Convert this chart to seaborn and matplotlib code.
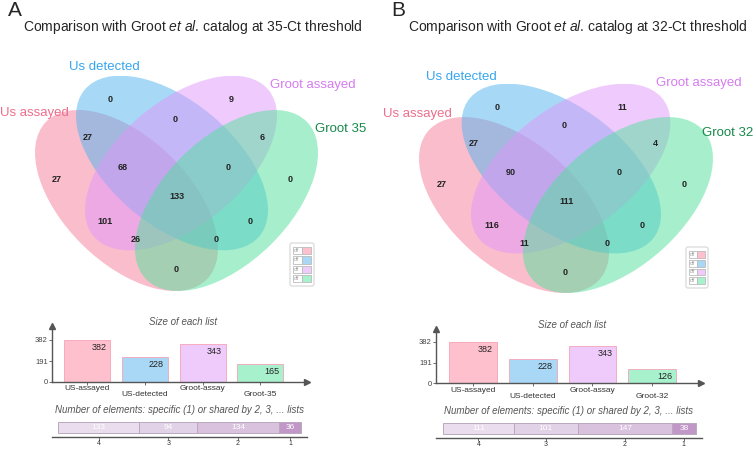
import numpy as np
import pandas as pd
import matplotlib
matplotlib.use("Agg")
import matplotlib.pyplot as plt
from matplotlib.patches import Ellipse, FancyBboxPatch, Rectangle
import seaborn as sns

sns.set_style("white")
plt.rcParams['font.family'] = ['Liberation Sans', 'DejaVu Sans']
plt.rcParams['mathtext.fontset'] = 'custom'
plt.rcParams['mathtext.rm'] = 'Liberation Sans'
plt.rcParams['mathtext.it'] = 'Liberation Sans:italic'

# ---- data ----
set_names_a = ["Us assayed", "Us detected", "Groot assayed", "Groot 35"]
set_names_b = ["Us assayed", "Us detected", "Groot assayed", "Groot 32"]
bar_labels_a = ["US-assayed", "US-detected", "Groot-assay", "Groot-35"]
bar_labels_b = ["US-assayed", "US-detected", "Groot-assay", "Groot-32"]

# regions: A, B, C, D, AB, BC, CD, ABC, BCD, ABCD, AC, BD, ACD, ABD, AD
regions = ["A", "B", "C", "D", "AB", "BC", "CD", "ABC", "BCD", "ABCD",
           "AC", "BD", "ACD", "ABD", "AD"]
counts_a = [27, 0, 9, 0, 27, 0, 6, 68, 0, 133, 101, 0, 26, 0, 0]
counts_b = [27, 0, 11, 0, 27, 0, 4, 90, 0, 111, 116, 0, 11, 0, 0]

sizes_a = [382, 228, 343, 165]
sizes_b = [382, 228, 343, 126]
size_ticks = [0, 191, 382]

shared_labels = ["4", "3", "2", "1"]
shared_a = [133, 94, 134, 36]
shared_b = [111, 101, 147, 38]

# ---- layout / style ----
W, H = 753, 449
fill_colors = ["#F57D9B", "#50B4F0", "#E196FA", "#50E19B"]
bar_colors = ["#FFC0CE", "#A8D8F6", "#EFCBFC", "#A8F1CD"]
bar_edges = ["#F5A3B6", "#8CC8EE", "#E0B0F2", "#8CE3B8"]
name_colors = ["#EE6E8C", "#36A6EE", "#D57CEF", "#17884A"]
shared_colors = ["#EADDEE", "#E2D2E7", "#D8C2DE", "#C197C8"]

# ellipses in the panel-A pixel frame: centre, width, height, angle
ellipses = [((126.5, 200.5), 225, 125, 44.4),
            ((172.0, 163.0), 228, 124, 40.0),
            ((181.0, 163.0), 228, 124, -40.0),
            ((226.5, 200.5), 225, 125, -44.4)]
region_xy = [(57, 179), (110, 100), (231, 100), (290, 179), (88, 137),
             (175, 119), (262, 137), (123, 167), (228, 167), (177, 197),
             (105, 222), (250, 222), (136, 240), (216, 240), (176, 270)]

fig = plt.figure(figsize=(W / 100, H / 100), dpi=100)


def px_axes(x0, y0, x1, y1):
    return fig.add_axes([x0 / W, 1 - y1 / H, (x1 - x0) / W, (y1 - y0) / H])


def draw_venn(box, counts, names, name_pos):
    ax = px_axes(*box)
    ax.set_xlim(35, 318)
    ax.set_ylim(291, 76)
    ax.axis("off")
    for (c, w, h, ang), col in zip(ellipses, fill_colors):
        ax.add_patch(Ellipse(c, w, h, angle=ang, facecolor=col, alpha=0.5,
                             edgecolor="none"))
    for (x, y), v in zip(region_xy, counts):
        ax.text(x, y, str(v), ha="center", va="center", fontsize=6.5,
                fontweight="bold", color="#222222")
    for name, (x, y), col in zip(names, name_pos, name_colors):
        fig.text(x / W, 1 - y / H, name, ha="left", va="center",
                 fontsize=9.5, color=col)


def draw_switches(x0, y0, x1, y1):
    ax = px_axes(0, 0, W, H)
    ax.set_xlim(0, W)
    ax.set_ylim(H, 0)
    ax.axis("off")
    ax.add_patch(FancyBboxPatch((x0, y0), x1 - x0, y1 - y0,
                                boxstyle="round,pad=0,rounding_size=2",
                                facecolor="white", edgecolor="#DDDDDD", lw=1))
    rh = (y1 - y0 - 6) / 4
    for i, col in enumerate(bar_colors):
        yy = y0 + 3 + i * rh + 1
        ax.add_patch(Rectangle((x0 + 3, yy), (x1 - x0 - 6) / 2, rh - 2,
                               facecolor="white", edgecolor="#BBBBBB", lw=0.6))
        ax.add_patch(Rectangle((x0 + 3 + (x1 - x0 - 6) / 2, yy),
                               (x1 - x0 - 6) / 2, rh - 2,
                               facecolor=col, edgecolor="#BBBBBB", lw=0.6))
        ax.text(x0 + 4, yy + (rh - 2) / 2, "off", fontsize=3.5,
                color="#999999", va="center", ha="left")


def draw_sizes(box, sizes, labels, ytop):
    ax = px_axes(*box)
    df = pd.DataFrame({"list": labels, "size": sizes})
    sns.barplot(data=df, x="list", y="size", hue="list", palette=bar_colors,
                legend=False, ax=ax, width=0.8, saturation=1,
                edgecolor=bar_edges, linewidth=0.6)
    ax.set_xlim(-0.61, 3.81)
    ax.set_ylim(0, ytop)
    ax.set_xlabel("")
    ax.set_ylabel("")
    for s in ["top", "right"]:
        ax.spines[s].set_visible(False)
    for s in ["left", "bottom"]:
        ax.spines[s].set_color("#555555")
        ax.spines[s].set_linewidth(1)
    ax.plot(1, 0, ">", color="#555555", ms=4, transform=ax.transAxes,
            clip_on=False)
    ax.plot(0, 1, "^", color="#555555", ms=4, transform=ax.transAxes,
            clip_on=False)
    ax.set_yticks(size_ticks)
    ax.set_yticklabels([str(t) for t in size_ticks], fontsize=5.5,
                       color="#444444")
    ax.tick_params(axis="y", length=2, width=0.6, pad=1, left=True,
                   color="#555555")
    ax.set_xticks(range(len(labels)))
    ax.set_xticklabels([""] * len(labels))
    ax.tick_params(axis="x", length=2.5, width=0.6, bottom=True,
                   color="#555555")
    for i, (lab, v) in enumerate(zip(labels, sizes)):
        ax.annotate(lab, xy=(i, 0), xycoords=("data", "axes fraction"),
                    xytext=(0, -7 if i % 2 == 0 else -13),
                    textcoords="offset pixels", ha="center", va="center",
                    fontsize=6, color="#333333")
        ax.annotate(str(v), xy=(i + 0.4, v), xytext=(-4, -3),
                    textcoords="offset pixels", ha="right", va="top",
                    fontsize=6.5, color="#222222")
    fig.text((box[0] + box[2]) / 2 / W + 0.005, 1 - (box[1] - 4) / H,
             "Size of each list", ha="center", va="center", fontsize=7,
             style="italic", color="#555555")


def draw_shared(box, bar_x, values, title_y):
    ax = px_axes(*box)
    total = sum(values)
    left = np.concatenate([[0], np.cumsum(values)[:-1]])
    ax.barh(0.55, values, left=left, height=0.67, color=shared_colors,
            edgecolor="#B9A9BE", linewidth=0.7)
    for l, v in zip(left, values):
        ax.text(l + v / 2, 0.55, str(v), ha="center", va="center",
                fontsize=6, color="white")
    span = bar_x[1] - bar_x[0]
    ax.set_xlim(-(bar_x[0] - box[0]) / span * total,
                (box[2] - bar_x[0]) / span * total)
    ax.set_ylim(0, 1)
    for s in ["top", "right", "left"]:
        ax.spines[s].set_visible(False)
    ax.spines["bottom"].set_color("#555555")
    ax.spines["bottom"].set_linewidth(1)
    ax.set_yticks([])
    ax.set_xticks(left + np.array(values) / 2)
    ax.set_xticklabels(shared_labels, fontsize=5, color="#333333")
    ax.tick_params(axis="x", length=2, width=0.6, pad=0.5, bottom=True,
                   color="#555555")
    fig.text((box[0] + box[2]) / 2 / W, 1 - title_y / H,
             "Number of elements: specific (1) or shared by 2, 3, ... lists",
             ha="center", va="center", fontsize=7, style="italic",
             color="#555555")


# panel letters and titles
fig.text(8 / W, 1 - 10 / H, "A", fontsize=15, va="center", ha="left")
fig.text(391 / W, 1 - 10 / H, "B", fontsize=15, va="center", ha="left")
fig.text(23 / W, 1 - 27 / H,
         "Comparison with Groot $\\it{et\\ al}$. catalog at 35-Ct threshold",
         fontsize=10, va="center", ha="left")
fig.text(408 / W, 1 - 27 / H,
         "Comparison with Groot $\\it{et\\ al}$. catalog at 32-Ct threshold",
         fontsize=10, va="center", ha="left")

draw_venn((35, 76, 318, 291), counts_a, set_names_a,
          [(0, 113), (69, 67), (270, 85), (315, 129)])
draw_venn((419, 84, 713, 293), counts_b, set_names_b,
          [(383, 114), (426, 77), (656, 83), (702, 133)])
draw_switches(290, 243, 314, 286)
draw_switches(686, 247, 708, 288)

draw_sizes((52, 326, 307, 382), sizes_a, bar_labels_a, 382 * 56 / 42)
draw_sizes((436, 329, 701, 383), sizes_b, bar_labels_b, 382 * 54 / 41)

draw_shared((52, 420, 307, 437), (58, 301), shared_a, 410)
draw_shared((436, 421, 702, 438), (443, 696), shared_b, 411)

fig.savefig("out.png", dpi=100)
